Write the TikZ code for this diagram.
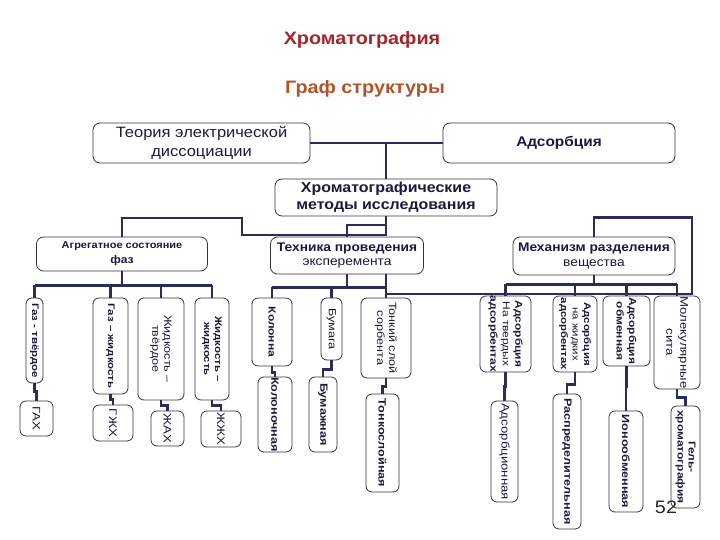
\documentclass[tikz,border=0pt]{standalone}
\usepackage{fontspec}
\setmainfont{Liberation Sans}[FakeStretch=1.1]
\newfontfamily\vf{Liberation Sans}[FakeStretch=1.2]
\definecolor{txt}{HTML}{1A1A3E}
\definecolor{boxc}{HTML}{34343F}
\definecolor{wirec}{HTML}{2A2C5A}
\definecolor{tone}{HTML}{A3262A}
\definecolor{ttwo}{HTML}{B2542A}
\begin{document}
\begin{tikzpicture}[x=1pt,y=-1pt,
  hb/.style={draw=boxc, line width=0.8pt, rounded corners=7pt, align=center, text=txt, inner sep=0pt},
  vb/.style={hb, rounded corners=6pt, rotate=-90},
  wire/.style={draw=wirec, line width=2.4pt, line join=miter},
  fs/.style 2 args={font=\fontsize{#1}{#2}\selectfont},
  vfs/.style 2 args={font=\vf\fontsize{#1}{#2}\selectfont},
  vfb/.style 2 args={font=\vf\bfseries\fontsize{#1}{#2}\selectfont}]
\useasboundingbox (0,0) rectangle (720,540);
% titles
\node[font=\bfseries\fontsize{18}{20}\selectfont, text=tone] (t1) at (362,40) {Хроматография};
\node[font=\bfseries\fontsize{18}{20}\selectfont, text=ttwo] (t2) at (365,89) {Граф структуры};
% top level
\node[hb, fs={15}{19}, minimum width=217pt, minimum height=40pt] (T) at (201.5,143) {Теория электрической\\диссоциации};
\node[hb, font=\bfseries\fontsize{14}{17}\selectfont, minimum width=232pt, minimum height=40pt] (A) at (559,143) {Адсорбция};
\node[hb, font=\bfseries\fontsize{14.5}{17}\selectfont, minimum width=222pt, minimum height=37pt] (H) at (386,197.5) {Хроматографические\\методы исследования};
\node[hb, font=\bfseries\fontsize{10}{15}\selectfont, minimum width=171pt, minimum height=34pt] (G) at (122,254) {Агрегатное состояние\\{\fontsize{11}{15}\selectfont фаз}};
\node[hb, fs={12.5}{14.5}, minimum width=153pt, minimum height=37pt] (K) at (347,255.5) {\textbf{Техника проведения}\\эксперемента};
\node[hb, fs={12.5}{15}, minimum width=162pt, minimum height=38pt] (M) at (594,256) {\textbf{Механизм разделения}\\вещества};
% second level (vertical)
\node[vb, vfb={9.5}{11}, minimum width=85pt, minimum height=17pt] (g1) at (34.5,340.5) {Газ - твёрдое};
\node[vb, vfb={9.5}{11}, minimum width=96pt, minimum height=35pt] (g2) at (110.5,346) {Газ – жидкость};
\node[vb, vfs={10.5}{12}, minimum width=102pt, minimum height=46pt] (g3) at (161,349) {Жидкость –\\твёрдое};
\node[vb, vfb={9.5}{11}, minimum width=102pt, minimum height=34pt] (g4) at (212,349) {Жидкость –\\жидкость};
\node[vb, vfb={10}{12}, minimum width=68pt, minimum height=40pt] (k1) at (272,332) {Колонна};
\node[vb, vfs={10.5}{12}, minimum width=62pt, minimum height=21pt] (k2) at (331.5,329) {Бумага};
\node[vb, vfs={10.5}{12}, minimum width=80pt, minimum height=50pt] (k3) at (386,338) {Тонкий слой\\сорбента};
\node[vb, vfs={10}{12.5}, minimum width=76pt, minimum height=51pt] (m1) at (505.5,334) {\textbf{Адсорбция}\\На твердых\\\textbf{адсорбентах}};
\node[vb, vfs={9.5}{11.5}, minimum width=76pt, minimum height=44pt] (m2) at (575,334) {\textbf{Адсорбция}\\на жидких\\\textbf{адсорбентах}};
\node[vb, vfb={10}{12.5}, minimum width=70pt, minimum height=47pt] (m3) at (626.5,331) {Адсорбция\\обменная};
\node[vb, vfs={11}{14}, minimum width=93pt, minimum height=46pt] (m4) at (677,342.5) {Молекулярные\\сита};
% third level (vertical)
\node[vb, vfs={11}{12}, minimum width=35pt, minimum height=33pt] (ga) at (36.5,418.5) {ГАХ};
\node[vb, vfs={11}{12}, minimum width=36pt, minimum height=40pt] (gb) at (113,423) {ГЖХ};
\node[vb, vfs={11}{12}, minimum width=35pt, minimum height=33pt] (gc) at (167.5,428.5) {ЖАХ};
\node[vb, vfs={11}{12}, minimum width=36pt, minimum height=40pt] (gd) at (221,429) {ЖЖХ};
\node[vb, vfb={10.5}{12}, minimum width=75pt, minimum height=34pt] (ka) at (275,414.5) {Колоночная};
\node[vb, vfb={10.5}{12}, minimum width=75pt, minimum height=28pt] (kb) at (323,414.5) {Бумажная};
\node[vb, vfb={10.5}{12}, minimum width=98pt, minimum height=33pt] (kc) at (382.5,443) {Тонкослойная};
\node[vb, vfs={11}{12}, minimum width=101pt, minimum height=27pt] (ma) at (504.5,451.5) {Адсорбционная};
\node[vb, vfb={10.5}{12}, minimum width=135pt, minimum height=28pt] (mb) at (567,461.5) {Распределительная};
\node[vb, vfb={10.5}{12}, minimum width=101pt, minimum height=34pt] (mc) at (626,461.5) {Ионообменная};
\node[vb, vfb={10}{11}, minimum width=102pt, minimum height=29pt] (md) at (685.5,457) {Гель-\\хроматография};
% page number
\node[font=\fontsize{18}{20}\selectfont, text=black!85] (pg) at (666,507) {52};
% wires: top
\coordinate (jt) at (386,143);
\draw[wire] (T.east) -- (A.west);
\draw[wire] (jt) -- (H.north);
\coordinate (hk) at (386,225);
\coordinate (hg) at (386,235);
\draw[wire] (H.south) -- (hg) -- (242,235) -- (242,218) -| (G.north);
\draw[wire] (hk) -| (K.north);
% Mechanism outer line
\coordinate (mo) at (692,294);
\draw[wire] (M.north) -- ++(0,-19) -| (mo) -- (mo -| k3.west);
% G bus
\draw[wire] (G.south) -- ++(0,14) coordinate (gbus);
\draw[wire] (g1.west |- gbus) -- (g4.west |- gbus);
\foreach \n in {g1,g2,g3,g4} \draw[wire] (\n.west |- gbus) -- (\n.west);
% K bus
\draw[wire] (K.south) -- ++(0,13) coordinate (kbus);
\draw[wire] (k1.west |- kbus) -- (k3.west |- kbus);
\foreach \n in {k1,k2} \draw[wire] (\n.west |- kbus) -- (\n.west);
\draw[wire] (K.south -| k3.west) -- (k3.west);
% M bus
\draw[wire] (M.south) -- ++(0,9) coordinate (mbus);
\draw[wire] (m1.west |- mbus) -- (m4.west |- mbus);
\foreach \n in {m1,m2,m3,m4} \draw[wire] (\n.west |- mbus) -- (\n.west);
% to third level
\draw[wire] (g1.east) -- ++(0,8) -| (ga.west);
\draw[wire] (g2.east) -- ++(0,5) -| (gb.west);
\draw[wire] (g3.east) -- ++(0,5) -| (gc.west);
\draw[wire] (g4.east) -- ++(0,5) -| (gd.west);
\draw[wire] (k1.east) -- ++(0,6) -| (ka.west);
\draw[wire] (k2.east) -- ++(0,9) -| (kb.west);
\draw[wire] (k3.east) -- ++(0,8) -| (kc.west);
\draw[wire] (m1.east) -- ++(0,14) -| (ma.west);
\draw[wire] (m2.east) -- ++(0,12) -| (mb.west);
\draw[wire] (m3.east) -- ++(0,20) -| (mc.west);
\draw[wire] (m4.east) -- ++(0,8) -| (md.west);
\end{tikzpicture}
\end{document}
